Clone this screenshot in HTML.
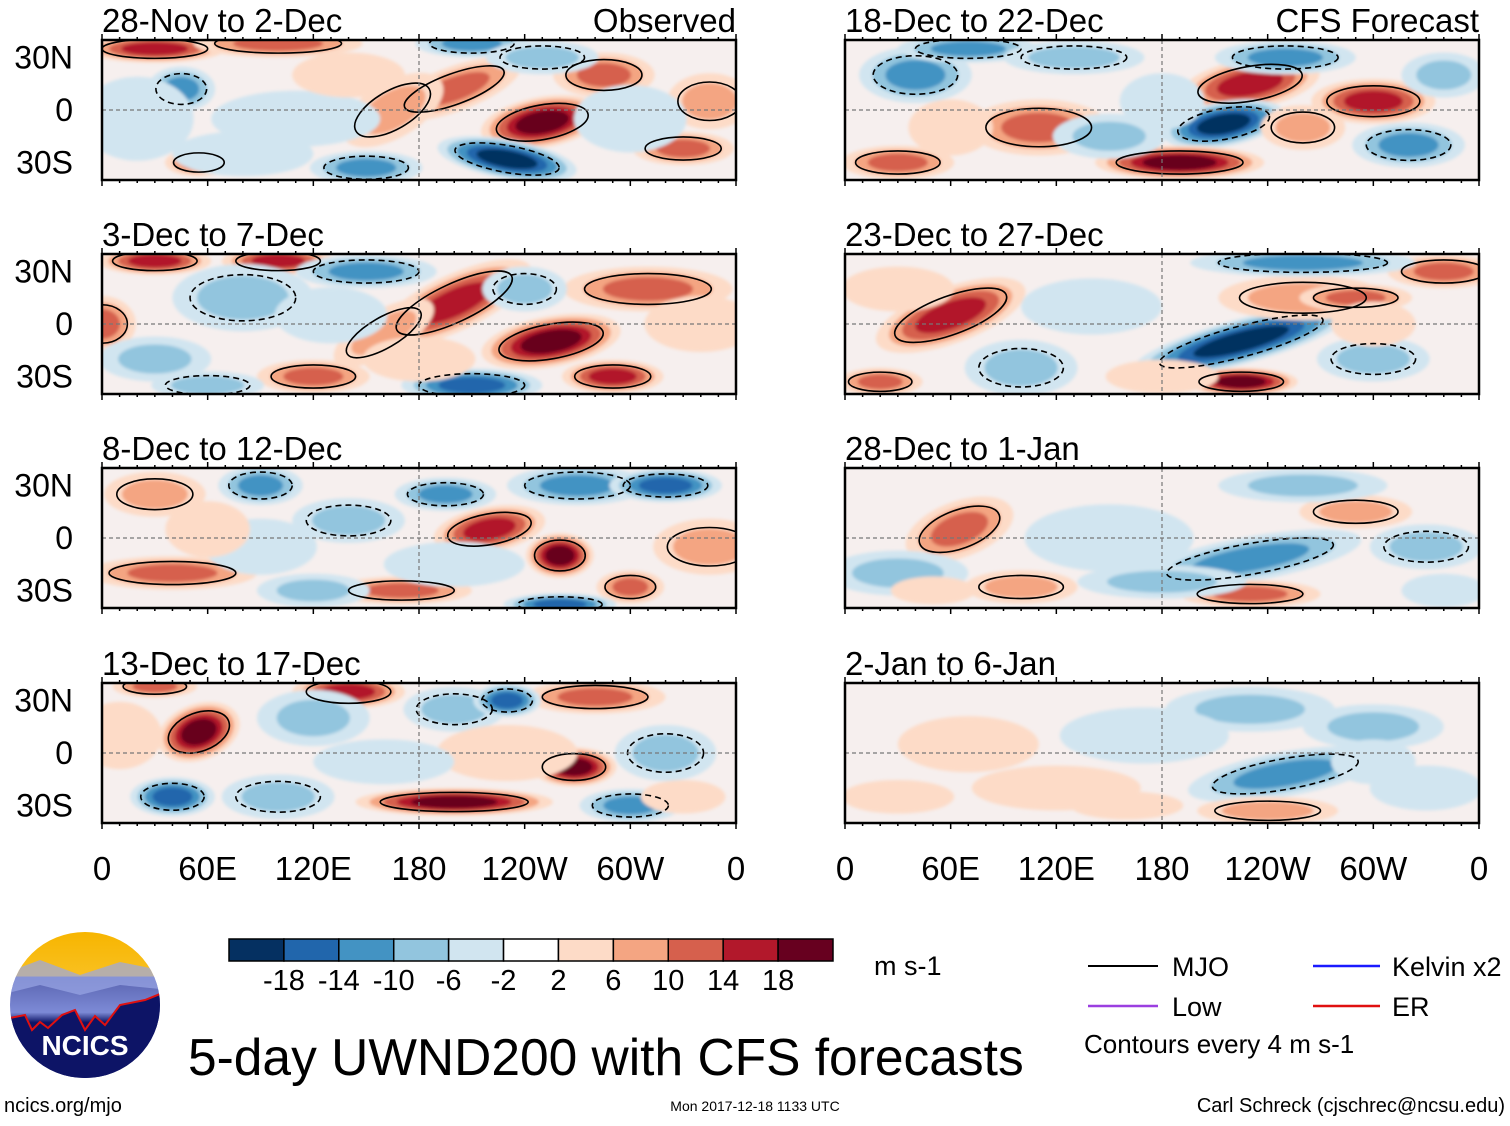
<!DOCTYPE html>
<html><head><meta charset="utf-8"><style>
html,body{margin:0;padding:0;background:#fff}
svg text{font-family:"Liberation Sans",sans-serif}
</style></head><body>
<svg id="fig" width="1510" height="1121" viewBox="0 0 1510 1121" xmlns="http://www.w3.org/2000/svg">
<defs>
<filter id="soft" x="-20%" y="-20%" width="140%" height="140%"><feGaussianBlur stdDeviation="1.5"/></filter>
<linearGradient id="sky" x1="0" y1="0" x2="0" y2="1">
<stop offset="0" stop-color="#f7b500"/><stop offset="0.3" stop-color="#f9c020"/><stop offset="0.31" stop-color="#5a64b0"/><stop offset="0.55" stop-color="#7d8ad6"/><stop offset="0.62" stop-color="#0d1466"/><stop offset="1" stop-color="#0d1466"/></linearGradient>
<clipPath id="logoclip"><ellipse cx="85" cy="1005" rx="75" ry="73"/></clipPath>
</defs>
<g id="panels"></g>
<g id="colorbar"></g>
<text x="874" y="975" font-size="27">m s-1</text>
<g>
<line x1="1088" y1="966" x2="1158" y2="966" stroke="#000" stroke-width="2"/><text x="1172" y="976" font-size="27">MJO</text>
<line x1="1313" y1="966" x2="1380" y2="966" stroke="#1a1aff" stroke-width="2.5"/><text x="1392" y="976" font-size="27">Kelvin x2</text>
<line x1="1088" y1="1006" x2="1158" y2="1006" stroke="#9b3fe0" stroke-width="2.5"/><text x="1172" y="1016" font-size="27">Low</text>
<line x1="1313" y1="1006" x2="1380" y2="1006" stroke="#e01010" stroke-width="2.5"/><text x="1392" y="1016" font-size="27">ER</text>
<text x="1084" y="1053" font-size="26">Contours every 4 m s-1</text>
</g>
<g>
<ellipse cx="85" cy="1005" rx="75" ry="73" fill="url(#sky)"/>
<g clip-path="url(#logoclip)">
<path d="M0 975 L40 960 L80 975 L120 962 L170 972 L170 990 L120 985 L80 995 L40 985 L0 995Z" fill="#9aa6e6" opacity="0.7"/>
<path d="M0 1020 L25 1015 L32 1030 L40 1022 L48 1028 L62 1015 L75 1010 L85 1030 L95 1016 L105 1025 L120 1005 L145 1000 L170 990 L170 1090 L0 1090Z" fill="#0d1466" stroke="#e01010" stroke-width="2"/>
</g>
<text x="85" y="1055" font-size="28" font-weight="bold" fill="#fff" text-anchor="middle">NCICS</text>
</g>
<text x="188" y="1075" font-size="51.5">5-day UWND200 with CFS forecasts</text>
<text x="4" y="1112" font-size="20">ncics.org/mjo</text>
<text x="755" y="1111" font-size="14" text-anchor="middle">Mon 2017-12-18 1133 UTC</text>
<text x="1505" y="1112" font-size="20" text-anchor="end">Carl Schreck (cjschrec@ncsu.edu)</text>
</svg>
<script>
const NS="http://www.w3.org/2000/svg";
const levelBounds=[-18,-14,-10,-6,-2,2,6,10,14,18];
const levelColors=["#053061","#2166ac","#4393c3","#92c5de","#d1e5f0","#ffffff","#fddbc7","#f4a582","#d6604d","#b2182b","#67001f"];
const lonTickLabels=["0","60E","120E","180","120W","60W","0"];
const lonTicks=[0,60,120,180,240,300,360];
const latTickLabels=["30N","0","30S"];
const latTicks=[30,0,-30];
const panelTitles=["28-Nov to 2-Dec","3-Dec to 7-Dec","8-Dec to 12-Dec","13-Dec to 17-Dec","18-Dec to 22-Dec","23-Dec to 27-Dec","28-Dec to 1-Jan","2-Jan to 6-Jan"];
// blobs: [lon, lat, lonRadius, latRadius, value, rotation]
const blobs0=[[250,-7,22,9,22,-10],[200,12,25,8,14,-20],[165,0,20,10,8,-30],[285,20,18,8,14,0],[230,-28,25,7,-18,10],[55,-30,12,5,14,0],[45,12,12,8,-10,0],[150,-33,20,6,-12,0],[330,-22,18,6,14,0],[30,35,25,5,16,0],[100,38,30,5,14,0],[210,38,20,5,-12,0],[345,5,15,10,8,0],[110,-5,30,10,-4,0],[20,-5,20,15,-4,0],[80,-25,25,8,-5,0],[300,-5,20,12,-4,0],[140,20,20,8,5,0],[250,30,20,6,-8,0]];
const blobs1=[[255,-10,25,9,22,-10],[200,12,30,10,16,-25],[160,-5,20,8,8,-30],[30,36,20,5,16,0],[100,36,20,5,16,0],[80,15,25,12,-8,0],[150,30,25,6,-10,0],[210,-35,25,6,-14,0],[290,-30,18,6,16,0],[310,20,30,8,14,0],[0,0,12,10,14,0],[120,-30,20,6,12,0],[30,-20,20,8,-6,0],[340,0,20,10,6,0],[60,-35,20,5,-8,0],[240,20,15,8,-8,0],[180,-20,20,8,5,0],[130,5,20,10,-4,0]];
const blobs2=[[260,-10,12,8,20,0],[220,5,20,8,16,-10],[170,-30,25,5,12,0],[40,-20,30,6,14,0],[90,30,15,7,-10,0],[195,25,18,6,-12,0],[270,30,25,7,-12,0],[320,30,20,6,-16,0],[300,-28,12,6,14,0],[140,10,20,8,-8,0],[30,25,18,8,8,0],[260,-38,20,4,-16,0],[345,-5,20,10,8,0],[90,-5,20,10,-5,0],[200,-15,25,8,-5,0],[120,-30,20,6,-6,0],[60,5,15,10,6,0]];
const blobs3=[[268,-8,15,7,22,0],[55,12,15,10,20,-20],[200,-28,35,5,20,0],[40,-25,15,7,-14,0],[100,-25,20,8,-8,0],[140,35,20,6,16,0],[30,38,15,4,14,0],[200,25,18,8,-8,0],[280,32,25,6,14,0],[230,30,12,6,-16,0],[120,20,20,10,-6,0],[320,0,18,10,-8,0],[300,-30,18,6,-10,0],[230,0,25,10,6,0],[10,10,15,12,6,0],[160,-5,25,8,-4,0],[330,-25,15,6,6,0]];
const blobs4=[[230,15,25,9,18,-10],[215,-8,22,8,-18,-10],[190,-30,30,6,20,0],[300,5,22,8,16,0],[40,20,20,10,-10,0],[110,-10,25,10,12,0],[70,35,25,5,-10,0],[250,30,25,6,-12,0],[320,-20,20,8,-10,0],[130,30,25,6,-8,0],[30,-30,20,6,14,0],[150,-15,20,8,-6,0],[260,-10,15,8,8,0],[340,20,15,8,-6,0],[60,-10,15,10,5,0],[180,5,15,10,-5,0]];
const blobs5=[[60,5,28,10,18,-20],[225,-10,40,8,-18,-15],[225,-33,20,5,20,0],[260,15,30,8,10,0],[290,15,20,5,14,0],[20,-33,15,5,14,0],[340,30,20,6,14,0],[100,-25,20,10,-8,0],[300,-20,20,8,-8,0],[260,35,40,5,-12,0],[140,10,25,10,-4,0],[300,0,15,8,6,0],[180,-30,20,6,6,0],[30,20,20,8,6,0]];
const blobs6=[[65,5,20,10,14,-20],[230,-12,40,8,-10,-10],[230,-32,25,5,14,0],[330,-5,20,8,-8,0],[100,-28,20,6,8,0],[30,-20,25,8,-6,0],[290,15,20,6,8,0],[260,30,30,6,-6,0],[150,0,30,12,-4,0],[180,-25,30,6,-6,0],[50,-30,15,5,6,0],[340,-30,15,6,-5,0]];
const blobs7=[[250,-12,35,8,-12,-10],[240,-33,25,5,8,0],[230,25,30,8,-6,0],[70,5,25,10,6,0],[300,15,25,8,-6,0],[120,-20,30,8,4,0],[330,-20,20,8,-5,0],[170,10,30,10,-3,0],[30,-25,20,6,5,0],[300,-5,15,8,-5,0],[160,-30,20,5,5,0]];
const panelBlobs=[blobs0,blobs1,blobs2,blobs3,blobs4,blobs5,blobs6,blobs7];
const panelX=[102,102,102,102,845,845,845,845];
const panelY=[40,254,468,683,40,254,468,683];
const PW=634, PH=140;
function levelIndex(v){let i=0;while(i<levelBounds.length&&v>levelBounds[i])i++;return i;}
const root=document.getElementById('panels');
function mk(tag,attrs,parent){const e=document.createElementNS(NS,tag);for(const k in attrs)e.setAttribute(k,attrs[k]);(parent||root).appendChild(e);return e;}
panelBlobs.forEach((bl,p)=>{
  const x0=panelX[p],y0=panelY[p];
  const xs=lon=>x0+lon/360*PW;
  const ys=lat=>y0+PH/2-lat/80*PH;
  const g=mk('g',{});
  
  
  const cid='clip'+p;
  const cp=mk('clipPath',{id:cid},g);mk('rect',{x:x0,y:y0,width:PW,height:PH},cp);
  const field=mk('g',{'clip-path':'url(#'+cid+')'},g);
  mk('rect',{x:x0,y:y0,width:PW,height:PH,fill:'#f6efee'},field);
  const fills=mk('g',{filter:'url(#soft)'},field);
  bl.forEach(b=>{
    const [lon,lat,rl,rt,v,rot]=b;
    const li=levelIndex(v);const n=Math.abs(li-5);
    const cx=xs(lon),cy=ys(lat),rx=rl/360*PW,ry=rt/80*PH;
    for(let k=1;k<=n;k++){
      const s=1-(k-1)/n*0.7;
      const ci=v>0?5+k:5-k;
      const e=mk('ellipse',{cx:cx,cy:cy,rx:rx*s*1.6,ry:ry*s*1.6,fill:levelColors[ci],transform:`rotate(${rot} ${cx} ${cy})`},fills);
      
      
    }
    if(Math.abs(v)>=8){
      const c=mk('ellipse',{cx:cx,cy:cy,rx:rx*1.2,ry:ry*1.1,fill:'none',stroke:'#000','stroke-width':1.6,'stroke-dasharray':v<0?'6 4':'none',transform:`rotate(${rot} ${cx} ${cy})`},field);
      
      
    }
  });
  mk('line',{x1:x0,x2:x0+PW,y1:ys(0),y2:ys(0),stroke:'#777','stroke-width':1.2,'stroke-dasharray':'4 3'},field);
  mk('line',{x1:xs(180),x2:xs(180),y1:y0,y2:y0+PH,stroke:'#777','stroke-width':1.2,'stroke-dasharray':'4 3'},field);
  mk('rect',{x:x0,y:y0,width:PW,height:PH,fill:'none',stroke:'#000','stroke-width':2.5},g);
  for(let l=0;l<=360;l+=10){const big=l%60==0;
    mk('line',{x1:xs(l),x2:xs(l),y1:y0,y2:y0-(big?6:3),stroke:'#000','stroke-width':1.5},g);
    mk('line',{x1:xs(l),x2:xs(l),y1:y0+PH,y2:y0+PH+(big?6:3),stroke:'#000','stroke-width':1.5},g);}
  latTicks.forEach((lt,i)=>{
    if(p<4){const t=mk('text',{x:73,y:ys(lt)+11,'font-size':32,'text-anchor':'end'},g);t.textContent=latTickLabels[i];
      }
  });
  const tt=mk('text',{x:x0,y:y0-8,'font-size':33},g);tt.textContent=panelTitles[p];
  
  if(p==0||p==4){const r=mk('text',{x:x0+PW,y:y0-8,'font-size':33,'text-anchor':'end'},g);r.textContent=p==0?'Observed':'CFS Forecast';
    }
  if(p==3||p==7){lonTicks.forEach((l,i)=>{const t=mk('text',{x:xs(l),y:880,'font-size':33,'text-anchor':'middle'},g);t.textContent=lonTickLabels[i];
    });}
});
// colorbar
const cb=document.getElementById('colorbar');
const cbX=229,cbW=604,cbY=939,cbH=22,bw=cbW/levelColors.length;
levelColors.forEach((c,i)=>{const r=document.createElementNS(NS,'rect');
  r.setAttribute('x',cbX+i*bw);r.setAttribute('y',cbY);r.setAttribute('width',bw);r.setAttribute('height',cbH);r.setAttribute('fill',c);r.setAttribute('stroke','#000');r.setAttribute('stroke-width','1.5');
  
  
  cb.appendChild(r);});
levelBounds.forEach((b,i)=>{const t=document.createElementNS(NS,'text');
  t.setAttribute('x',cbX+(i+1)*bw);t.setAttribute('y',990);t.setAttribute('font-size','29');t.setAttribute('text-anchor','middle');t.textContent=b;
  
  
  cb.appendChild(t);});
</script>
</body></html>
